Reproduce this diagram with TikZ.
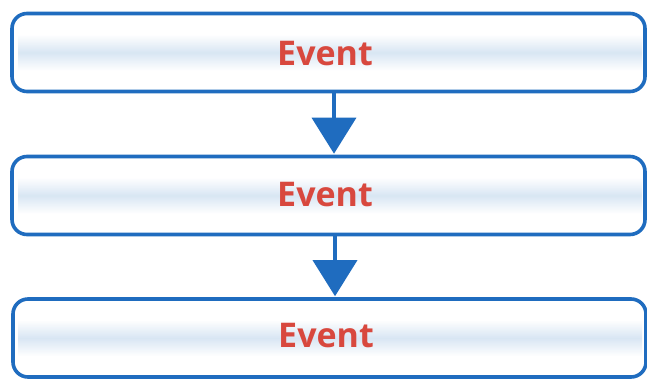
\documentclass[tikz,border=0pt]{standalone}
\usepackage{fontspec}
\setmainfont{Open Sans}
\usetikzlibrary{arrows.meta}
\definecolor{evblue}{HTML}{1F6CBF}
\definecolor{evred}{HTML}{D8483E}
\definecolor{band}{HTML}{CFE0F1}
\tikzset{
  x=1pt,y=-1pt,
  eventbox/.style={draw=evblue,line width=3.6pt,rounded corners=15pt,minimum width=633pt,minimum height=78pt,inner sep=0pt},
  eventtext/.style={text=evred,font=\fontsize{34}{40}\selectfont\bfseries,inner sep=0pt},
  flow/.style={draw=evblue,line width=3.6pt,-{Triangle[length=36pt,width=44pt,fill=evblue]}, shorten >=1pt}
}
\begin{document}
\begin{tikzpicture}
\useasboundingbox (0,0) rectangle (647,378);
\fill[white] (0,0) rectangle (647,378);
\foreach \c in {52.5,195.5,338} {
  \shade[top color=white,bottom color=white,middle color=band,opacity=0.8] (18,\c-18) rectangle (642,\c+18);
}
\node[eventbox] (b1) at (328.5,52.5) {};
\node[eventbox] (b2) at (328.5,195.5) {};
\node[eventbox] (b3) at (329.5,338) {};
\node[eventtext] (t1) at (325,54) {Event};
\node[eventtext] (t2) at (325,195) {Event};
\node[eventtext] (t3) at (326,336) {Event};
\draw[flow] (b1.south -| 334,0) -- (b2.north -| 334,0);
\draw[flow] (b2.south -| 335,0) -- (b3.north -| 335,0);
\end{tikzpicture}
\end{document}
